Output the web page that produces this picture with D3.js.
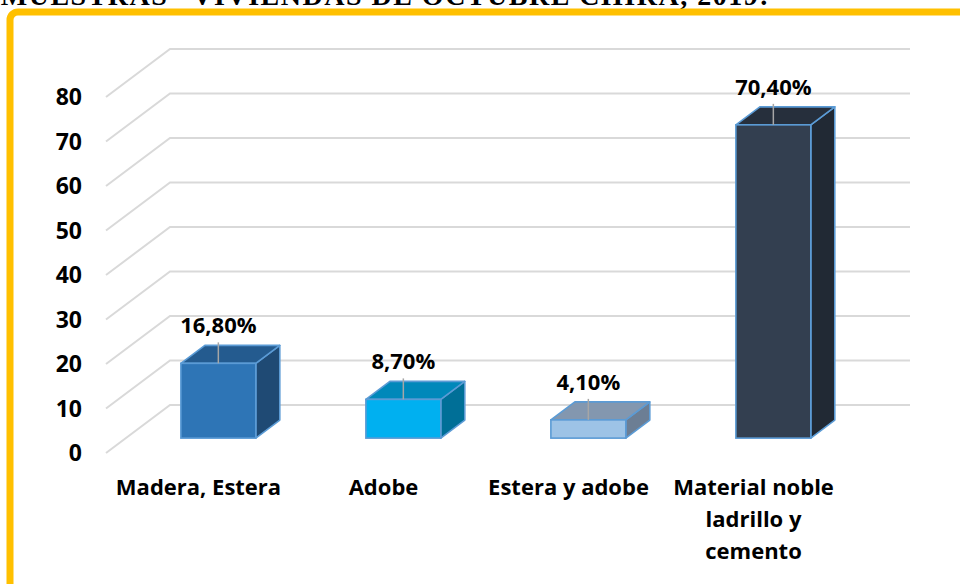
<!DOCTYPE html>
<html>
<head>
<meta charset="utf-8">
<script src="https://cdn.jsdelivr.net/npm/d3@7/dist/d3.min.js"></script>
<style>
  html, body { margin: 0; padding: 0; background: #fff; }
  svg { display: block; }
</style>
</head>
<body>
<svg id="chart" width="960" height="584"></svg>
<script>
// ---- data ----
const categories = ["Madera, Estera", "Adobe", "Estera y adobe", "Material noble ladrillo y cemento"];
const categoryLines = [["Madera, Estera"], ["Adobe"], ["Estera y adobe"], ["Material noble", "ladrillo y", "cemento"]];
const values = [16.8, 8.7, 4.1, 70.4];
const valueLabels = ["16,80%", "8,70%", "4,10%", "70,40%"];
const yTicks = [0, 10, 20, 30, 40, 50, 60, 70, 80];
const titleText = "MUESTRAS \u201CVIVIENDAS DE OCTUBRE CHIRA, 2019:";

// colours per bar: front, top, side
const frontColors = ["#2E75B6", "#00B0F0", "#9DC3E6", "#333F50"];
const topColors   = ["#245B8F", "#0088BA", "#8397AF", "#262F3C"];
const sideColors  = ["#1F4A74", "#006F97", "#6C7E94", "#212934"];

const svg = d3.select("#chart");
const font = "'Open Sans', Lato, sans-serif";

// clipped title at the very top (only its lower edge shows, as in the source)
svg.append("text")
  .attr("x", 770).attr("y", 5)
  .attr("text-anchor", "end")
  .attr("font-family", "'Liberation Serif', 'Times New Roman', serif")
  .attr("font-weight", "bold")
  .attr("font-size", 28)
  .attr("letter-spacing", 1.5)
  .attr("fill", "#000")
  .text(titleText);

// yellow frame
svg.append("rect")
  .attr("x", 10).attr("y", 12)
  .attr("width", 1000).attr("height", 700)
  .attr("rx", 8)
  .attr("fill", "none")
  .attr("stroke", "#FFC000")
  .attr("stroke-width", 7);

// ---- scales ----
const x = d3.scaleBand().domain(categories).range([106, 846]).padding(0);
const y = d3.scaleLinear().domain([0, 80]).range([453, 97]);
const DX = 64, DY = -48;           // full depth offset of the 3D box
const d0 = 0.31, d1 = 0.685;       // bar depth span
const barFrac = 0.405;

// gridlines (floor diagonal + back wall)
const g = svg.append("g");
yTicks.forEach(t => {
  const yf = y(t);
  g.append("path")
    .attr("d", `M${x.range()[0]},${yf} L${x.range()[0] + DX},${yf + DY} L${x.range()[1] + DX},${yf + DY}`)
    .attr("fill", "none")
    .attr("stroke", "#D9D9D9")
    .attr("stroke-width", 2);
});

// y tick labels
svg.append("g").selectAll("text")
  .data(yTicks)
  .join("text")
  .attr("x", 82)
  .attr("y", d => y(d))
  .attr("dy", "0.36em")
  .attr("text-anchor", "end")
  .attr("font-family", font)
  .attr("font-weight", "bold")
  .attr("font-size", 23)
  .attr("fill", "#000")
  .text(d => d);

// bars
const bars = svg.append("g");
categories.forEach((c, i) => {
  const bw = x.bandwidth() * barFrac;
  const xc = x(c) + x.bandwidth() / 2;
  const fx0 = xc - bw / 2 + DX * d0, fx1 = fx0 + bw;
  const fyb = y(0) + DY * d0, fyt = y(values[i]) + DY * d0;
  const ox = DX * (d1 - d0), oy = DY * (d1 - d0);
  const stroke = "#5B9BD5", sw = 1.6;
  // right face
  bars.append("path")
    .attr("d", `M${fx1},${fyt} L${fx1 + ox},${fyt + oy} L${fx1 + ox},${fyb + oy} L${fx1},${fyb} Z`)
    .attr("fill", sideColors[i]).attr("stroke", stroke).attr("stroke-width", sw).attr("stroke-linejoin", "round");
  // top face
  bars.append("path")
    .attr("d", `M${fx0},${fyt} L${fx1},${fyt} L${fx1 + ox},${fyt + oy} L${fx0 + ox},${fyt + oy} Z`)
    .attr("fill", topColors[i]).attr("stroke", stroke).attr("stroke-width", sw).attr("stroke-linejoin", "round");
  // front face
  bars.append("rect")
    .attr("x", fx0).attr("y", fyt)
    .attr("width", bw).attr("height", fyb - fyt)
    .attr("fill", frontColors[i]).attr("stroke", stroke).attr("stroke-width", sw);
  // leader line + label
  const lx = (fx0 + fx1) / 2;
  bars.append("line")
    .attr("x1", lx).attr("x2", lx)
    .attr("y1", fyt - 21).attr("y2", fyt)
    .attr("stroke", "#A6A6A6").attr("stroke-width", 1.5);
  bars.append("text")
    .attr("x", lx).attr("y", fyt - 30)
    .attr("text-anchor", "middle")
    .attr("font-family", font)
    .attr("font-weight", "bold")
    .attr("font-size", 22)
    .attr("fill", "#000")
    .text(valueLabels[i]);
});

// category labels
const cat = svg.append("g");
categories.forEach((c, i) => {
  const t = cat.append("text")
    .attr("x", x(c) + x.bandwidth() / 2)
    .attr("y", 495)
    .attr("text-anchor", "middle")
    .attr("font-family", font)
    .attr("font-weight", "bold")
    .attr("font-size", 22)
    .attr("fill", "#000");
  categoryLines[i].forEach((ln, j) => {
    t.append("tspan")
      .attr("x", x(c) + x.bandwidth() / 2)
      .attr("dy", j === 0 ? 0 : 32)
      .text(ln);
  });
});
</script>
</body>
</html>
